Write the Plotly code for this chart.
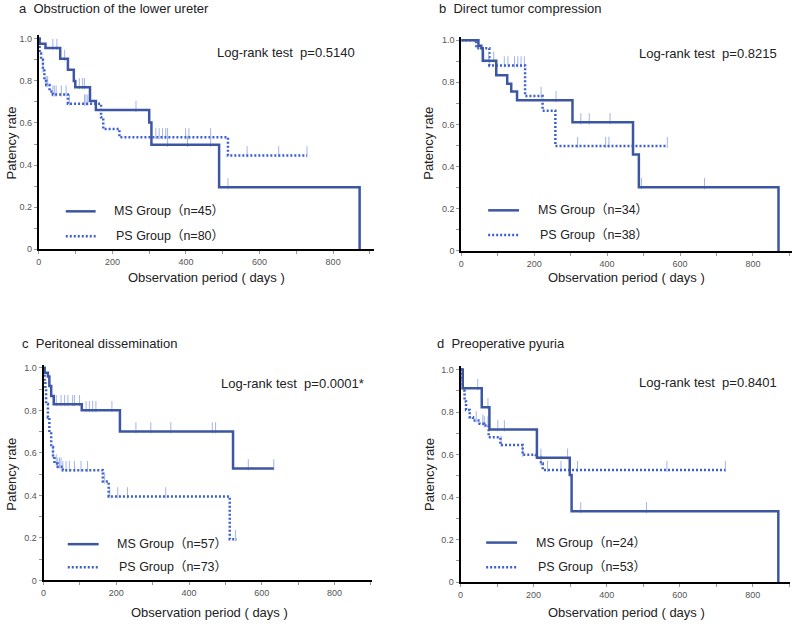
import numpy as np
import plotly.graph_objects as go

# ---------------- data ----------------
panel_titles = ["a  Obstruction of the lower ureter", "b  Direct tumor compression",
                "c  Peritoneal dissemination", "d  Preoperative pyuria"]
logrank = ["Log-rank test  p=0.5140", "Log-rank test  p=0.8215",
           "Log-rank test  p=0.0001*", "Log-rank test  p=0.8401"]
ms_labels = ["MS Group（n=45）", "MS Group（n=34）", "MS Group（n=57）", "MS Group（n=24）"]
ps_labels = ["PS Group（n=80）", "PS Group（n=38）", "PS Group（n=73）", "PS Group（n=53）"]

# panel a
MS_a_t = [0, 2, 18, 58, 79, 95, 99, 139, 155, 300, 306, 490, 872]
MS_a_s = [1.0, 0.977, 0.956, 0.905, 0.853, 0.80, 0.77, 0.704, 0.662, 0.602, 0.496, 0.294, 0.0]
MS_a_c = [38, 49, 70, 110, 119, 124, 264, 350, 404, 467, 514]
PS_a_t = [0, 2, 6, 11, 15, 20, 29, 38, 79, 169, 175, 219, 514, 729]
PS_a_s = [1.0, 0.93, 0.90, 0.85, 0.80, 0.78, 0.75, 0.735, 0.692, 0.627, 0.571, 0.532, 0.446, 0.446]
PS_a_c = [11, 20, 24, 38, 42, 47, 61, 74, 83, 124, 128, 133, 318, 327, 336, 345, 350,
          399, 408, 467, 566, 652, 729]
# panel b
MS_b_t = [0, 47, 55, 59, 96, 126, 137, 153, 305, 471, 487, 870]
MS_b_s = [1.0, 0.974, 0.962, 0.903, 0.834, 0.793, 0.756, 0.715, 0.61, 0.458, 0.302, 0.0]
MS_b_c = [62, 75, 89, 260, 328, 351, 408, 494, 667]
PS_b_t = [0, 41, 77, 175, 223, 258, 565]
PS_b_s = [1.0, 0.962, 0.88, 0.735, 0.665, 0.498, 0.498]
PS_b_c = [77, 118, 128, 146, 155, 164, 173, 219, 319, 396, 405, 565]
# panel c
MS_c_t = [0, 3, 12, 16, 21, 28, 105, 210, 521, 633]
MS_c_s = [1.0, 0.977, 0.96, 0.915, 0.868, 0.829, 0.801, 0.701, 0.527, 0.527]
MS_c_c = [35, 48, 58, 67, 80, 85, 99, 117, 126, 135, 144, 188, 254, 295, 350, 464, 473, 563, 633]
PS_c_t = [0, 3, 5, 7, 12, 16, 21, 26, 30, 39, 53, 163, 179, 512, 531]
PS_c_s = [1.0, 0.938, 0.9, 0.83, 0.767, 0.698, 0.628, 0.581, 0.55, 0.535, 0.519, 0.465, 0.395, 0.194, 0.194]
PS_c_c = [26, 35, 39, 44, 48, 53, 62, 71, 85, 103, 121, 168, 182, 204, 231, 336, 528]
# panel d
MS_d_t = [0, 6, 58, 79, 209, 299, 304, 870]
MS_d_s = [1.0, 0.912, 0.822, 0.718, 0.585, 0.504, 0.333, 0.0]
MS_d_c = [47, 75, 102, 120, 220, 293, 329, 509]
PS_d_t = [0, 2, 6, 11, 15, 25, 34, 52, 65, 77, 109, 170, 206, 220, 225, 725]
PS_d_s = [1.0, 0.953, 0.9, 0.85, 0.81, 0.776, 0.76, 0.745, 0.737, 0.681, 0.645, 0.599, 0.585, 0.558, 0.527, 0.527]
PS_d_c = [43, 61, 65, 75, 111, 170, 220, 238, 275, 320, 565, 725]

x_ticks = [0, 200, 400, 600, 800]
y_ticks = [0, 0.2, 0.4, 0.6, 0.8, 1.0]
y_ticktext = ["0", "0.2", "0.4", "0.6", "0.8", "1.0"]

panels = [
    (MS_a_t, MS_a_s, MS_a_c, PS_a_t, PS_a_s, PS_a_c),
    (MS_b_t, MS_b_s, MS_b_c, PS_b_t, PS_b_s, PS_b_c),
    (MS_c_t, MS_c_s, MS_c_c, PS_c_t, PS_c_s, PS_c_c),
    (MS_d_t, MS_d_s, MS_d_c, PS_d_t, PS_d_s, PS_d_c),
]

# ---------------- layout geometry (pixels) ----------------
W, H = 794, 626
geo = [
    dict(xl=36, xr=372, xmax=910, yb=250, yt=33, ymax=1.02),
    dict(xl=460, xr=792, xmax=907, yb=251.7, yt=35, ymax=1.017),
    dict(xl=40.7, xr=370, xmax=902, yb=585, yt=367, ymax=1.014),
    dict(xl=459.3, xr=790, xmax=902, yb=586.7, yt=368, ymax=1.017),
]
title_pos = [(14, 7), (436, 7), (17, 345), (434, 345)]
logrank_pos = [(213, 51), (636, 52), (217, 386), (636, 385)]
leg_pos = [  # line x0, x1, text x, row1 y, row2 y
    (63, 93, 109, 211.7, 237),
    (487, 518, 535, 210.7, 235.7),
    (65, 96, 112.7, 548.3, 571.7),
    (485, 516, 532.7, 546.7, 571.7),
]
ytitle_pos = [(8, 142), (427, 143), (9, 477), (428, 478)]
xtitle_pos = [(204, 279), (626, 279), (207, 617), (626, 617)]

MS_COLOR = "#3d56a3"
PS_COLOR = "#3d5fcf"
CENS_COLOR = "#a3b5e6"
DOT = "2px,2px"
FONT = "Liberation Sans, Arial, Noto Sans CJK JP, sans-serif"


def px(x):
    return x / W


def py(y):
    return 1 - y / H


def step_val(t, s, c):
    t = np.asarray(t, float)
    s = np.asarray(s, float)
    idx = np.searchsorted(t, np.asarray(c, float), side="right") - 1
    return s[np.clip(idx, 0, len(s) - 1)]


fig = go.Figure()
annotations = []
shapes = []

for i, (mt, ms, mc, pt, ps, pc) in enumerate(panels):
    g = geo[i]
    xa = "x" if i == 0 else f"x{i+1}"
    ya = "y" if i == 0 else f"y{i+1}"
    for (t, s, c, col, dash, w) in [(pt, ps, pc, PS_COLOR, DOT, 2.5),
                                    (mt, ms, mc, MS_COLOR, "solid", 2.5)]:
        cy = step_val(t, s, c) + 0.017
        fig.add_trace(go.Scatter(x=c, y=cy, mode="markers", xaxis=xa, yaxis=ya,
                                 marker=dict(symbol="line-ns-open", size=8, color=CENS_COLOR,
                                             line=dict(color=CENS_COLOR, width=1)),
                                 showlegend=False, hoverinfo="skip"))
        fig.add_trace(go.Scatter(x=t, y=s, mode="lines", line_shape="hv", xaxis=xa, yaxis=ya,
                                 line=dict(color=col, width=w, dash=dash),
                                 showlegend=False))
    axx = dict(domain=[px(g["xl"]), px(g["xr"])], range=[0, g["xmax"]], anchor=ya,
               showline=True, linecolor="black", linewidth=2, showgrid=False, zeroline=False,
               tickvals=x_ticks, ticks="outside", ticklen=3, tickcolor="#999",
               tickfont=dict(size=9, color="#555", family=FONT),
               minor=dict(dtick=100, tick0=0, ticks="outside", ticklen=3, tickcolor="#999"),
               fixedrange=True)
    axy = dict(domain=[py(g["yb"]), py(g["yt"])], range=[0, g["ymax"]], anchor=xa,
               showline=True, linecolor="black", linewidth=2, showgrid=False, zeroline=False,
               tickvals=y_ticks, ticktext=y_ticktext, ticks="outside", ticklen=3, tickcolor="#999",
               tickfont=dict(size=9, color="#555", family=FONT),
               minor=dict(dtick=0.1, tick0=0, ticks="outside", ticklen=3, tickcolor="#999"),
               fixedrange=True)
    key = "" if i == 0 else str(i + 1)
    fig.update_layout(**{f"xaxis{key}": axx, f"yaxis{key}": axy})

    tx, ty = title_pos[i]
    annotations.append(dict(x=px(tx), y=py(ty), xref="paper", yref="paper", text=panel_titles[i],
                            showarrow=False, xanchor="left", yanchor="middle",
                            font=dict(size=13, color="#222", family=FONT)))
    lx, ly = logrank_pos[i]
    annotations.append(dict(x=px(lx), y=py(ly), xref="paper", yref="paper", text=logrank[i],
                            showarrow=False, xanchor="left", yanchor="middle",
                            font=dict(size=13, color="#222", family=FONT)))
    x0, x1, txx, y1, y2 = leg_pos[i]
    shapes.append(dict(type="line", xref="paper", yref="paper", x0=px(x0), x1=px(x1),
                       y0=py(y1), y1=py(y1), line=dict(color=MS_COLOR, width=2.5)))
    shapes.append(dict(type="line", xref="paper", yref="paper", x0=px(x0), x1=px(x1),
                       y0=py(y2), y1=py(y2), line=dict(color=PS_COLOR, width=2.5, dash=DOT)))
    annotations.append(dict(x=px(txx), y=py(y1), xref="paper", yref="paper", text=ms_labels[i],
                            showarrow=False, xanchor="left", yanchor="middle",
                            font=dict(size=12.5, color="#222", family=FONT)))
    annotations.append(dict(x=px(txx + 2), y=py(y2), xref="paper", yref="paper", text=ps_labels[i],
                            showarrow=False, xanchor="left", yanchor="middle",
                            font=dict(size=12.5, color="#222", family=FONT)))
    ax_, ay_ = ytitle_pos[i]
    annotations.append(dict(x=px(ax_), y=py(ay_), xref="paper", yref="paper", text="Patency rate",
                            showarrow=False, textangle=-90, xanchor="center", yanchor="middle",
                            font=dict(size=13, color="#222", family=FONT)))
    bx, by = xtitle_pos[i]
    annotations.append(dict(x=px(bx), y=py(by), xref="paper", yref="paper",
                            text="Observation period ( days )",
                            showarrow=False, xanchor="center", yanchor="middle",
                            font=dict(size=13, color="#222", family=FONT)))

fig.update_layout(width=W, height=H, margin=dict(l=0, r=0, t=0, b=0),
                  paper_bgcolor="white", plot_bgcolor="white",
                  annotations=annotations, shapes=shapes, showlegend=False,
                  font=dict(family=FONT))
fig.write_html("out.html", config={"displayModeBar": False})
